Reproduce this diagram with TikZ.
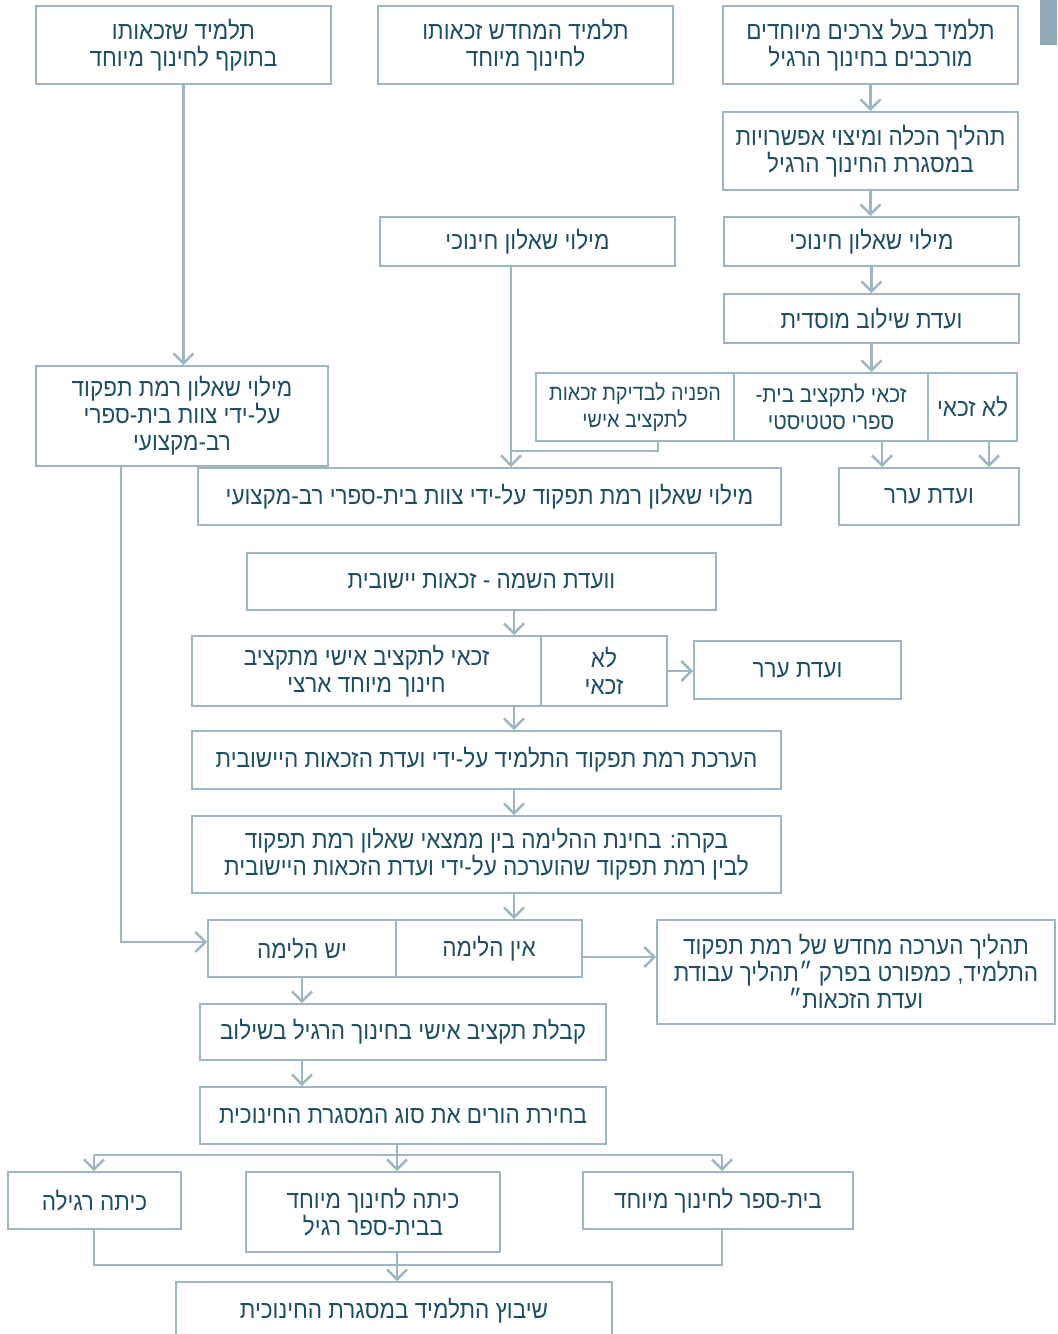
\documentclass[tikz,border=0pt]{standalone}
\usepackage{fontspec}
\setmainfont{Liberation Sans}[Script=Hebrew,FakeStretch=0.9]
\usetikzlibrary{arrows.meta}
\TeXXeTstate=1
\definecolor{frame}{HTML}{9DB6C1}
\definecolor{ink}{HTML}{1D4F63}
\definecolor{tab}{HTML}{8FAAB6}
\newcommand{\rl}[1]{\beginR #1\endR}

\begin{document}
\begin{tikzpicture}[x=0.5pt,y=-0.5pt,
    box/.style={draw=frame,line width=0.8pt,text=ink,align=center,inner sep=2pt,font=\fontsize{12.5}{13.5}\selectfont},
    arr/.style={draw=frame,line width=1.3pt,-{Straight Barb[length=5pt,width=10pt]}},
    lnk/.style={draw=frame,line width=1.3pt}]
    \useasboundingbox (0,0) rectangle (1057,1334);
    \fill[tab] (1040,0) rectangle (1057,45);
    \node[box,minimum width=147.5pt,minimum height=39pt] (b1) at (870.5,45) {\rl{תלמיד בעל צרכים מיוחדים}\\\rl{מורכבים בחינוך הרגיל}};
    \node[box,minimum width=147.5pt,minimum height=39pt] (b2) at (525.5,45) {\rl{תלמיד המחדש זכאותו}\\\rl{לחינוך מיוחד}};
    \node[box,minimum width=147.5pt,minimum height=39pt] (b3) at (183.5,45) {\rl{תלמיד שזכאותו}\\\rl{בתוקף לחינוך מיוחד}};
    \node[box,minimum width=147.5pt,minimum height=39pt] (b4) at (870.5,151) {\rl{תהליך הכלה ומיצוי אפשרויות}\\\rl{במסגרת החינוך הרגיל}};
    \node[box,minimum width=147.5pt,minimum height=24.5pt] (b5) at (871.5,241.5) {\rl{מילוי שאלון חינוכי}};
    \node[box,minimum width=147.5pt,minimum height=24.5pt] (b6) at (527.5,241.5) {\rl{מילוי שאלון חינוכי}};
    \node[box,minimum width=147.5pt,minimum height=24.5pt] (b7) at (871.5,318.5) {\rl{ועדת שילוב מוסדית}};
    \node[box,inner xsep=0pt,font=\fontsize{11}{13.5}\selectfont,minimum width=99pt,minimum height=34pt] (s8a) at (635,407) {\rl{הפניה לבדיקת זכאות}\\\rl{לתקציב אישי}};
    \node[box,inner xsep=0pt,font=\fontsize{11.5}{13.5}\selectfont,minimum width=97pt,minimum height=34pt] (s8b) at (831,407) {\rl{זכאי לתקציב בית-}\\\rl{ספרי סטטיסטי}};
    \node[box,minimum width=44.5pt,minimum height=34pt] (s8c) at (972.5,407) {\rl{לא זכאי}};
    \node[box,minimum width=146pt,minimum height=50pt] (b9) at (182,416) {\rl{מילוי שאלון רמת תפקוד}\\\rl{על-ידי צוות בית-ספרי}\\\rl{רב-מקצועי}};
    \node[box,minimum width=291.5pt,minimum height=28.5pt] (b10) at (489.5,496.5) {\rl{מילוי שאלון רמת תפקוד על-ידי צוות בית-ספרי רב-מקצועי}};
    \node[box,minimum width=90pt,minimum height=28.5pt] (b11) at (929,496.5) {\rl{ועדת ערר}};
    \node[box,minimum width=234.5pt,minimum height=28.5pt] (b12) at (481.5,581.5) {\rl{וועדת השמה - זכאות יישובית}};
    \node[box,minimum width=174.5pt,minimum height=35pt] (s13a) at (366.5,671) {\rl{זכאי לתקציב אישי מתקציב}\\\rl{חינוך מיוחד ארצי}};
    \node[box,minimum width=63pt,minimum height=35pt] (s13b) at (604,671) {\rl{לא}\\\rl{זכאי}};
    \node[box,minimum width=103.5pt,minimum height=29pt] (b14) at (797.5,670) {\rl{ועדת ערר}};
    \node[box,minimum width=294.5pt,minimum height=29pt] (b15) at (486.5,760) {\rl{הערכת רמת תפקוד התלמיד על-ידי ועדת הזכאות היישובית}};
    \node[box,minimum width=294.5pt,minimum height=38.5pt] (b16) at (486.5,854.5) {\rl{בקרה: בחינת ההלימה בין ממצאי שאלון רמת תפקוד}\\\rl{לבין רמת תפקוד שהוערכה על-ידי ועדת הזכאות היישובית}};
    \node[box,minimum width=94pt,minimum height=28.5pt] (s17a) at (302,948.5) {\rl{יש הלימה}};
    \node[box,minimum width=93pt,minimum height=28.5pt] (s17b) at (489,948.5) {\rl{אין הלימה}};
    \node[box,minimum width=199pt,minimum height=52pt] (b18) at (856,972) {\rl{תהליך הערכה מחדש של רמת תפקוד}\\\rl{התלמיד, כמפורט בפרק ״תהליך עבודת}\\\rl{ועדת הזכאות״}};
    \node[box,minimum width=203pt,minimum height=28pt] (b19) at (403,1032) {\rl{קבלת תקציב אישי בחינוך הרגיל בשילוב}};
    \node[box,minimum width=203pt,minimum height=28.5pt] (b20) at (403,1115.5) {\rl{בחירת הורים את סוג המסגרת החינוכית}};
    \node[box,minimum width=86.5pt,minimum height=28.5pt] (b21) at (94.5,1200.5) {\rl{כיתה רגילה}};
    \node[box,minimum width=127pt,minimum height=40pt] (b22) at (373,1212) {\rl{כיתה לחינוך מיוחד}\\\rl{בבית-ספר רגיל}};
    \node[box,minimum width=135pt,minimum height=28.5pt] (b23) at (718,1200.5) {\rl{בית-ספר לחינוך מיוחד}};
    \node[box,minimum width=218pt,minimum height=29pt] (b24) at (394,1311) {\rl{שיבוץ התלמיד במסגרת החינוכית}};
    \coordinate (cm) at (511,451);
    \coordinate (cc) at (514,0);
    \coordinate (cl) at (121,942);
    \coordinate (cp) at (302,0);
    \coordinate (cb) at (397,1155);
    \coordinate (cd) at (397,1265);
    \coordinate (k1) at (94,1155);
    \coordinate (k3) at (722,1155);
    \coordinate (m1) at (94,1265);
    \coordinate (m3) at (722,1265);
    \coordinate (t8a) at ([xshift=11.5pt]s8a.south);
    \coordinate (t8b) at ([xshift=25.5pt]s8b.south);
    \coordinate (t8c) at ([xshift=8.25pt]s8c.south);
    \coordinate (t17) at ([yshift=-4.25pt]s17b.east);
    \draw[arr] (b1.south) -- (b1.south |- b4.north);
    \draw[arr] (b4.south) -- (b4.south |- b5.north);
    \draw[arr] (b5.south) -- (b5.south |- b7.north);
    \draw[arr] (b7.south) -- (b7.south |- s8b.north);
    \draw[arr] (b3.south) -- (b3.south |- b9.north);
    \draw[arr] (b6.south -| cm) -- (b10.north -| cm);
    \draw[lnk] (t8a) |- (cm);
    \draw[arr] (t8b) -- (t8b |- b11.north);
    \draw[arr] (t8c) -- (t8c |- b11.north);
    \draw[arr] (b12.south -| cc) -- (s13a.north -| cc);
    \draw[arr] (s13b.east) -- (s13b.east -| b14.west);
    \draw[arr] (s13a.south -| cc) -- (b15.north -| cc);
    \draw[arr] (b15.south -| cc) -- (b16.north -| cc);
    \draw[arr] (b16.south -| cc) -- (s17b.north -| cc);
    \draw[arr] (b9.south -| cl) -- (cl) -- (cl -| s17a.west);
    \draw[arr] (t17) -- (t17 -| b18.west);
    \draw[arr] (s17a.south -| cp) -- (b19.north -| cp);
    \draw[arr] (b19.south -| cp) -- (b20.north -| cp);
    \draw[lnk] (b20.south -| cb) -- (cb);
    \draw[lnk] (k1) -- (k3);
    \draw[arr] (k1) -- (k1 |- b21.north);
    \draw[arr] (cb) -- (cb |- b22.north);
    \draw[arr] (k3) -- (k3 |- b23.north);
    \draw[lnk] (m1 |- b21.south) -- (m1) -- (m3) -- (m3 |- b23.south);
    \draw[arr] (b22.south -| cd) -- (b24.north -| cd);
\end{tikzpicture}
\end{document}
